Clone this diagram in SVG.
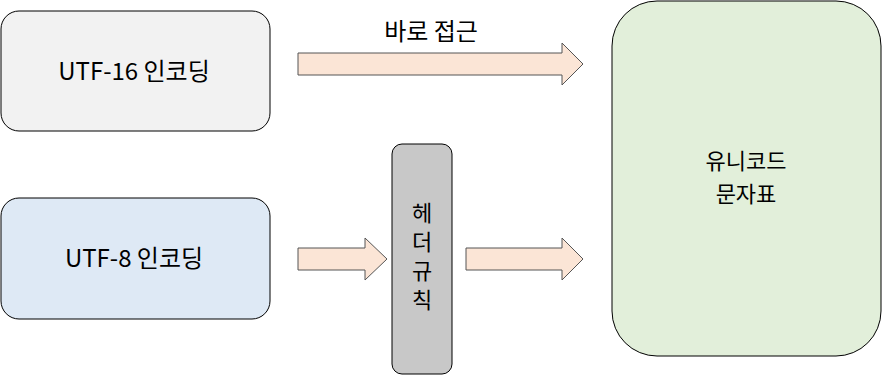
<svg xmlns="http://www.w3.org/2000/svg" width="882" height="375" viewBox="0 0 882 375">
<style>
.t{font-family:"Noto Sans CJK KR","Noto Sans",sans-serif;font-size:24px;fill:#000;text-anchor:middle}
.v{font-family:"Noto Sans CJK KR","Noto Sans",sans-serif;font-size:22px;fill:#000;writing-mode:vertical-rl;text-anchor:start;letter-spacing:7px}
.box{stroke:#000;stroke-width:1}
.arr{fill:#fbe5d6;stroke:#555;stroke-width:1}
</style>
<rect width="882" height="375" fill="#fff"/>
<g id="utf16">
<rect class="box" x="1" y="11" width="269" height="120" rx="18" fill="#f2f2f2"/>
<text class="t" x="134" y="80">UTF-16 인코딩</text>
</g>
<g id="utf8">
<rect class="box" x="1" y="198" width="269" height="121" rx="18" fill="#dee9f5"/>
<text class="t" x="134" y="267">UTF-8 인코딩</text>
</g>
<g id="header">
<rect class="box" x="392" y="144" width="60" height="230" rx="10" fill="#c8c8c8"/>
<text class="v" x="422" y="202">헤더규칙</text>
</g>
<g id="unicode">
<rect class="box" x="612" y="1" width="269" height="355" rx="45" fill="#e2efda"/>
<text class="t" style="font-size:22px"><tspan x="746" y="169">유니코드</tspan><tspan x="746" y="201.5">문자표</tspan></text>
</g>
<g id="connectors">
<path class="arr" d="M298,53 H562 V43 L583,64 L562,85 V75 H298 Z"/>
<text class="t" x="431" y="40">바로 접근</text>
<path class="arr" d="M298,248 H365 V238 L387,259 L365,280 V270 H298 Z"/>
<path class="arr" d="M466,248 H562 V238 L583,259 L562,280 V270 H466 Z"/>
</g>
</svg>
